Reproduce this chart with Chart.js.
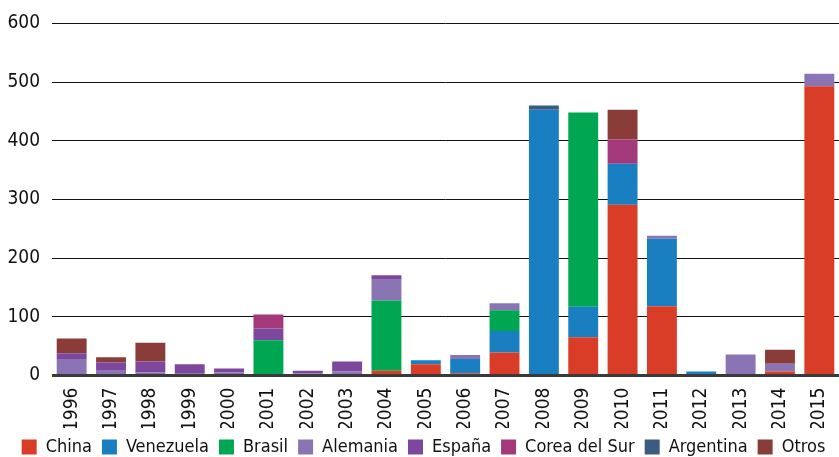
<!DOCTYPE html>
<html>
<head>
<meta charset="utf-8">
<script src="https://cdn.jsdelivr.net/npm/chart.js@4"></script>
<style>
  html, body { margin: 0; padding: 0; background: #fff; }
  #wrap { width: 839px; height: 457px; }
</style>
</head>
<body>
<div id="wrap"><canvas id="chart" width="839" height="457"></canvas></div>
<script>
const years = ["1996","1997","1998","1999","2000","2001","2002","2003","2004","2005",
	"2006","2007","2008","2009","2010","2011","2012","2013","2014","2015"];

const china     = [0, 0, 0, 0, 0, 0, 0, 0, 8, 19, 4, 39, 0, 65, 291, 118, 0, 0, 7, 493];
const venezuela = [0, 0, 0, 0, 0, 0, 0, 0, 0, 7, 24, 37, 453, 52, 70, 115, 7, 0, 0, 0];
const brasil    = [0, 0, 0, 0, 0, 60, 0, 0, 120, 0, 0, 35, 0, 331, 0, 0, 0, 0, 0, 0];
const alemania  = [28, 8, 5, 3, 5, 0, 4, 7, 35, 0, 7, 12, 0, 0, 0, 5, 0, 36, 13, 21];
const espana    = [10, 14, 19, 16, 7, 20, 4, 17, 8, 0, 0, 0, 0, 0, 0, 0, 0, 0, 0, 0];
const corea     = [0, 0, 0, 0, 0, 24, 0, 0, 0, 0, 0, 0, 0, 0, 41, 0, 0, 0, 0, 0];
const argentina = [0, 0, 0, 0, 0, 0, 0, 0, 0, 0, 0, 0, 7, 0, 0, 0, 0, 0, 0, 0];
const otros     = [25, 9, 32, 0, 0, 0, 0, 0, 0, 0, 0, 0, 0, 0, 51, 0, 0, 0, 24, 0];

const yTicks = [0, 100, 200, 300, 400, 500, 600];

const FONT = "'DejaVu Sans Condensed', 'Liberation Sans', sans-serif";

function series(label, data, color) {
	return {
		label: label,
		data: data,
		backgroundColor: color,
		borderWidth: 0,
		categoryPercentage: 1.0,
		barPercentage: 0.76
	};
}

// thick dark baseline drawn over the bars
const zeroLine = {
	id: "zeroLine",
	afterDatasetsDraw(chart) {
		const ctx = chart.ctx;
		const y = chart.scales.y.getPixelForValue(0);
		ctx.save();
		ctx.strokeStyle = "#3a3a3a";
		ctx.lineWidth = 3;
		ctx.beginPath();
		ctx.moveTo(chart.chartArea.left, y);
		ctx.lineTo(chart.chartArea.right, y);
		ctx.stroke();
		ctx.restore();
	}
};

new Chart("chart", {
	type: "bar",
	data: {
		labels: years,
		datasets: [
			series("China", china, "#d93d27"),
			series("Venezuela", venezuela, "#1a7fc1"),
			series("Brasil", brasil, "#00a651"),
			series("Alemania", alemania, "#8a74b3"),
			series("España", espana, "#7c479d"),
			series("Corea del Sur", corea, "#a3387a"),
			series("Argentina", argentina, "#3b5b80"),
			series("Otros", otros, "#8a3d38")
		]
	},
	options: {
		responsive: false,
		animation: false,
		layout: {padding: {left: 8, right: 0, top: 12, bottom: -9}},
		scales: {
			x: {
				stacked: true,
				afterFit: (axis) => {
					axis.height -= 7;
					axis.paddingLeft = 0;
					axis.paddingRight = 0;
				},
				grid: {display: false},
				border: {display: false},
				ticks: {
					color: "#111",
					font: {family: FONT, size: 19},
					minRotation: 90,
					maxRotation: 90,
					padding: 4
				}
			},
			y: {
				stacked: true,
				min: 0,
				max: 600,
				afterBuildTicks: (axis) => { axis.ticks = yTicks.map(v => ({value: v})); },
				afterFit: (axis) => { axis.width = 44; },
				grid: {color: "#111", lineWidth: 1, drawTicks: false},
				border: {display: false},
				ticks: {
					color: "#111",
					font: {family: FONT, size: 19},
					padding: 12
				}
			}
		},
		plugins: {
			tooltip: {enabled: false},
			legend: {
				position: "bottom",
				align: "center",
				labels: {
					boxWidth: 15,
					boxHeight: 15,
					padding: 10,
					color: "#111",
					font: {family: FONT, size: 18}
				}
			}
		}
	},
	plugins: [zeroLine]
});
</script>
</body>
</html>
